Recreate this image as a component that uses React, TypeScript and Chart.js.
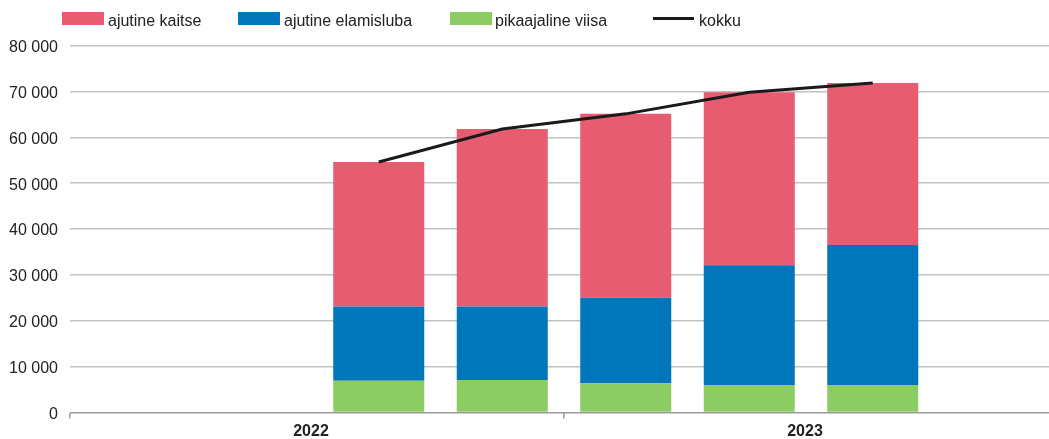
import React, { useEffect, useRef } from "react";
import { Chart, registerables } from "chart.js";

Chart.register(...registerables);

const quarters = ["2022 I", "2022 II", "2022 III", "2022 IV", "2023 I", "2023 II", "2023 III", "2023 IV"];
const years = ["2022", "2023"];
const yTicks = [0, 10000, 20000, 30000, 40000, 50000, 60000, 70000, 80000];

const ajutineKaitse = [null, null, 31500, 38700, 40100, 37700, 35300, null];
const ajutineElamisluba = [null, null, 16200, 16000, 18600, 26100, 30500, null];
const pikaajalineViisa = [null, null, 6900, 7100, 6400, 6000, 6000, null];
const kokku = [null, null, 54600, 61800, 65100, 69800, 71800, null];

const seriesNames = ["ajutine kaitse", "ajutine elamisluba", "pikaajaline viisa", "kokku"];
const RED = "#E85C71";
const BLUE = "#0077BB";
const GREEN = "#8CCC63";
const BLACK = "#1a1a1a";

const FONT = "'Liberation Sans', Arial, Helvetica, sans-serif";

function fmt(v: number): string {
  return String(v).replace(/\B(?=(\d{3})+(?!\d))/g, " ");
}

export default function App() {
  const ref = useRef<HTMLCanvasElement | null>(null);

  useEffect(() => {
    if (!ref.current) return;
    const chart = new Chart(ref.current, {
      type: "bar",
      data: {
        labels: quarters,
        datasets: [
          {
            type: "bar",
            label: seriesNames[2],
            data: pikaajalineViisa as any,
            backgroundColor: GREEN,
            stack: "bars",
            order: 1,
            xAxisID: "x",
          },
          {
            type: "bar",
            label: seriesNames[1],
            data: ajutineElamisluba as any,
            backgroundColor: BLUE,
            stack: "bars",
            order: 1,
            xAxisID: "x",
          },
          {
            type: "bar",
            label: seriesNames[0],
            data: ajutineKaitse as any,
            backgroundColor: RED,
            stack: "bars",
            order: 1,
            xAxisID: "x",
          },
          {
            type: "line",
            label: seriesNames[3],
            data: kokku as any,
            borderColor: BLACK,
            backgroundColor: BLACK,
            borderWidth: 3,
            pointRadius: 0,
            tension: 0,
            stack: "total",
            order: 0,
            xAxisID: "x",
          } as any,
        ],
      },
      options: {
        responsive: false,
        animation: false,
        devicePixelRatio: 1,
        layout: { padding: { top: 45.5, left: 0, right: 0, bottom: 0 } },
        datasets: {
          bar: { categoryPercentage: 1, barPercentage: 0.737 },
        } as any,
        plugins: {
          legend: { display: false },
          tooltip: { enabled: false },
        },
        scales: {
          x: {
            type: "category",
            display: false,
            stacked: true,
            offset: true,
          },
          xYear: {
            type: "category",
            labels: years,
            position: "bottom",
            offset: true,
            grid: {
              offset: true,
              drawOnChartArea: false,
              tickLength: 6,
              color: "#9a9a9a",
              lineWidth: 1.5,
            },
            border: { display: false },
            ticks: {
              font: { family: FONT, size: 16, weight: "bold" },
              color: "#222",
              padding: 3,
              labelOffset: -6,
              maxRotation: 0,
            },
            afterFit: (s: any) => {
              s.height = 30.5;
            },
          } as any,
          y: {
            stacked: true,
            min: 0,
            max: 80000,
            afterBuildTicks: (s: any) => {
              s.ticks = yTicks.map((v) => ({ value: v }));
            },
            grid: {
              drawTicks: false,
              color: (c: any) => (c.tick && c.tick.value === 0 ? "#9a9a9a" : "#c2c2c2"),
              lineWidth: 1.5,
            },
            border: { display: false },
            ticks: {
              font: { family: FONT, size: 16 },
              color: "#222",
              padding: 12,
              labelOffset: 2,
              callback: (v: any) => fmt(Number(v)),
            },
            afterFit: (s: any) => {
              s.width = 70;
            },
          } as any,
        },
      },
    });
    return () => chart.destroy();
  }, []);

  const textStyle: React.CSSProperties = {
    position: "absolute",
    top: 13,
    fontFamily: FONT,
    fontSize: 16,
    lineHeight: "16px",
    color: "#222",
    whiteSpace: "nowrap",
  };
  const box = (left: number, color: string): React.CSSProperties => ({
    position: "absolute",
    left,
    top: 12,
    width: 42,
    height: 13,
    background: color,
  });

  return (
    <div
      style={{
        position: "fixed",
        left: 0,
        top: 0,
        width: 1049,
        height: 439,
        overflow: "hidden",
        background: "#fff",
      }}
    >
      <canvas
        ref={ref}
        width={1058}
        height={443}
        style={{ position: "absolute", left: 0, top: 0, width: 1058, height: 443 }}
      />
      <div style={box(62, RED)} />
      <span style={{ ...textStyle, left: 108 }}>{seriesNames[0]}</span>
      <div style={box(238, BLUE)} />
      <span style={{ ...textStyle, left: 284 }}>{seriesNames[1]}</span>
      <div style={box(450, GREEN)} />
      <span style={{ ...textStyle, left: 495 }}>{seriesNames[2]}</span>
      <div
        style={{
          position: "absolute",
          left: 653,
          top: 17,
          width: 41,
          height: 3,
          background: BLACK,
        }}
      />
      <span style={{ ...textStyle, left: 699 }}>{seriesNames[3]}</span>
    </div>
  );
}
